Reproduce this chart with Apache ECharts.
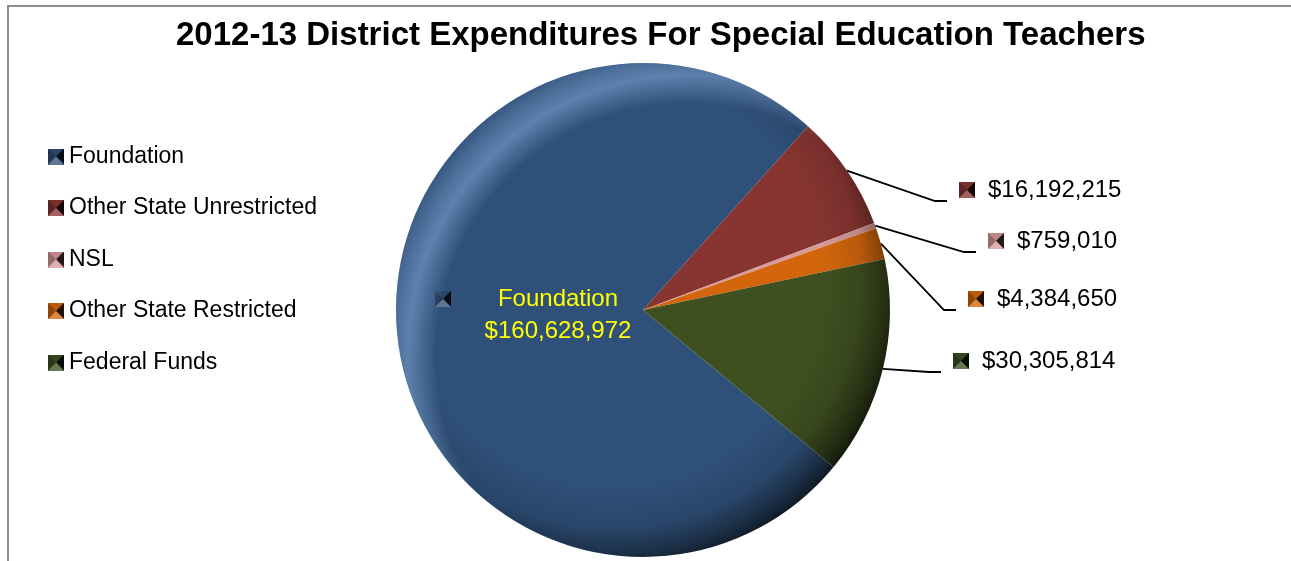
<!DOCTYPE html>
<html>
<head>
<meta charset="utf-8">
<title>2012-13 District Expenditures For Special Education Teachers</title>
<script src="https://cdn.jsdelivr.net/npm/echarts@6/dist/echarts.min.js"></script>
<style>
  html, body { margin: 0; padding: 0; background: #fff; overflow: hidden; }
  #frame { position: absolute; left: 7px; top: 5px; width: 1400px; height: 700px; border: 2px solid #8c8c8c; }
  #chart { position: absolute; left: 0; top: 0; width: 1291px; height: 561px; }
</style>
</head>
<body>
<div id="frame"></div>
<div id="chart"></div>
<script>
// ---- data ----
const TITLE = '2012-13 District Expenditures For Special Education Teachers';
const categories = ['Foundation', 'Other State Unrestricted', 'NSL', 'Other State Restricted', 'Federal Funds'];
const amounts = [160628972, 16192215, 759010, 4384650, 30305814];
const sliceColors = ['#2F5079', '#883532', '#D89A9B', '#D3660C', '#3F5020'];

// ---- layout ----
const PIE = { cx: 643, cy: 310, r: 247 };
const TITLE_CENTER_X = 661;
// left / vertical-middle anchor of each slice label
const labelAnchors = [[435, 315], [959, 190], [988, 241], [968, 299], [953, 361]];

// pick a condensed face if one is installed
function hasFont(name) {
  const ctx = document.createElement('canvas').getContext('2d');
  const s = 'Foundation $160,628,972 WMm';
  ctx.font = '40px monospace';
  const w0 = ctx.measureText(s).width;
  ctx.font = '40px "' + name + '", monospace';
  return Math.abs(ctx.measureText(s).width - w0) > 0.5;
}
const narrowName = ['Liberation Sans Narrow', 'Arial Narrow', 'Nimbus Sans Narrow'].find(hasFont);
const FONT = narrowName ? '"' + narrowName + '", sans-serif' : '"Liberation Sans", Arial, sans-serif';
const TITLE_SIZE = narrowName ? 36 : 33;
const LEGEND_SIZE = narrowName ? 27 : 23;
const LABEL_SIZE = narrowName ? 29 : 24;

function textWidth(str, font) {
  const ctx = document.createElement('canvas').getContext('2d');
  ctx.font = font;
  return ctx.measureText(str).width;
}
const titleWidth = textWidth(TITLE, 'bold ' + TITLE_SIZE + 'px ' + FONT);

function shade(hex, f) {
  const n = parseInt(hex.slice(1), 16);
  let r = n >> 16, g = (n >> 8) & 255, b = n & 255;
  const t = f < 0 ? 0 : 255, p = Math.abs(f);
  r = Math.round(r + (t - r) * p); g = Math.round(g + (t - g) * p); b = Math.round(b + (t - b) * p);
  return 'rgb(' + r + ',' + g + ',' + b + ')';
}

// small bevelled square used as the series key
function bevelIcon(hex, size) {
  const c = document.createElement('canvas');
  c.width = c.height = size;
  const x = c.getContext('2d');
  const s = size, h = size / 2;
  x.fillStyle = shade(hex, -0.3);
  x.fillRect(0, 0, s, s);
  const tri = (pts, col) => {
    x.beginPath(); x.moveTo(pts[0][0], pts[0][1]); x.lineTo(pts[1][0], pts[1][1]); x.lineTo(pts[2][0], pts[2][1]);
    x.closePath(); x.fillStyle = col; x.fill();
  };
  tri([[0, 0], [s, 0], [h, h]], shade(hex, -0.12));
  tri([[0, 0], [0, s], [h, h]], shade(hex, -0.32));
  tri([[s, 0], [s, s], [h, h]], shade(hex, -0.85));
  tri([[0, s], [s, s], [h, h]], shade(hex, 0.22));
  return c;
}
const icons = sliceColors.map(c => bevelIcon(c, 16));

// rim shading of each slice, darker toward lower right
function sliceFill(hex) {
  return {
    type: 'radial', x: PIE.cx - 30, y: PIE.cy - 30, r: PIE.r + 42, global: true,
    colorStops: [
      { offset: 0, color: hex },
      { offset: 0.72, color: hex },
      { offset: 0.86, color: shade(hex, -0.12) },
      { offset: 0.95, color: shade(hex, -0.42) },
      { offset: 1, color: shade(hex, -0.68) }
    ]
  };
}

const money = v => '$' + v.toLocaleString('en-US');

const rich = {
  gp: { width: 34 },
  gp2: { width: 50 },
  g: { width: 13 },
  nm: { width: 146, align: 'center', color: '#FFFF00', fontFamily: FONT, fontSize: LABEL_SIZE, lineHeight: 32 },
  val: { width: 146, align: 'center', color: '#FFFF00', fontFamily: FONT, fontSize: LABEL_SIZE, lineHeight: 32 },
  v: { color: '#000', fontFamily: FONT, fontSize: LABEL_SIZE, lineHeight: 32 }
};
icons.forEach((c, i) => { rich['ic' + i] = { width: 16, height: 16, backgroundColor: { image: c } }; });

const chart = echarts.init(document.getElementById('chart'), null, { renderer: 'canvas' });

chart.setOption({
  animation: false,
  backgroundColor: 'transparent',
  title: {
    text: TITLE,
    left: Math.round(TITLE_CENTER_X - titleWidth / 2),
    top: 19,
    padding: 0,
    textStyle: { fontFamily: FONT, fontWeight: 'bold', fontSize: TITLE_SIZE, color: '#000' }
  },
  legend: {
    orient: 'vertical',
    left: 48,
    top: 145,
    padding: 0,
    itemGap: 28.5,
    itemWidth: 16,
    itemHeight: 16,
    selectedMode: false,
    data: categories.map((name, i) => ({ name, icon: 'image://' + icons[i].toDataURL() })),
    textStyle: { fontFamily: FONT, fontSize: LEGEND_SIZE, color: '#000' }
  },
  series: [{
    type: 'pie',
    center: [PIE.cx, PIE.cy],
    radius: PIE.r,
    startAngle: -39.5,
    clockwise: true,
    silent: true,
    avoidLabelOverlap: false,
    data: categories.map((name, i) => ({
      name,
      value: amounts[i],
      itemStyle: { color: sliceFill(sliceColors[i]) },
      label: { position: i === 0 ? 'inside' : 'outside' },
      labelLine: { show: i !== 0 }
    })),
    itemStyle: { borderWidth: 0 },
    label: {
      show: true,
      formatter: p => p.dataIndex === 0
        ? '{ic0|}{gp|}{nm|' + p.name + '}\n{gp2|}{val|' + money(p.value) + '}'
        : '{ic' + p.dataIndex + '|}{g|}{v|' + money(p.value) + '}',
      rich
    },
    labelLine: { show: true, length: 10, length2: 10, lineStyle: { color: '#000', width: 1.8 } },
    labelLayout: function (p) {
      const a = labelAnchors[p.dataIndex];
      const out = { x: a[0], y: a[1], align: 'left', verticalAlign: 'middle' };
      if (p.dataIndex > 0 && p.labelLinePoints) {
        const s = p.labelLinePoints[0];
        out.labelLinePoints = [[s[0], s[1]], [a[0] - 24, a[1] + 11], [a[0] - 12, a[1] + 11]];
      }
      return out;
    }
  }],
  graphic: [{
    // soft light on the upper-left rim of the pie
    type: 'circle',
    silent: true,
    z: 3,
    shape: { cx: PIE.cx, cy: PIE.cy, r: PIE.r },
    style: {
      fill: {
        type: 'radial', x: PIE.cx + 45, y: PIE.cy + 45, r: PIE.r + 64, global: true,
        colorStops: [
          { offset: 0, color: 'rgba(150,190,240,0)' },
          { offset: 0.81, color: 'rgba(150,190,240,0)' },
          { offset: 0.9, color: 'rgba(150,190,240,0.45)' },
          { offset: 0.965, color: 'rgba(150,190,240,0.22)' },
          { offset: 1, color: 'rgba(150,190,240,0.05)' }
        ]
      }
    }
  }]
});
</script>
</body>
</html>
